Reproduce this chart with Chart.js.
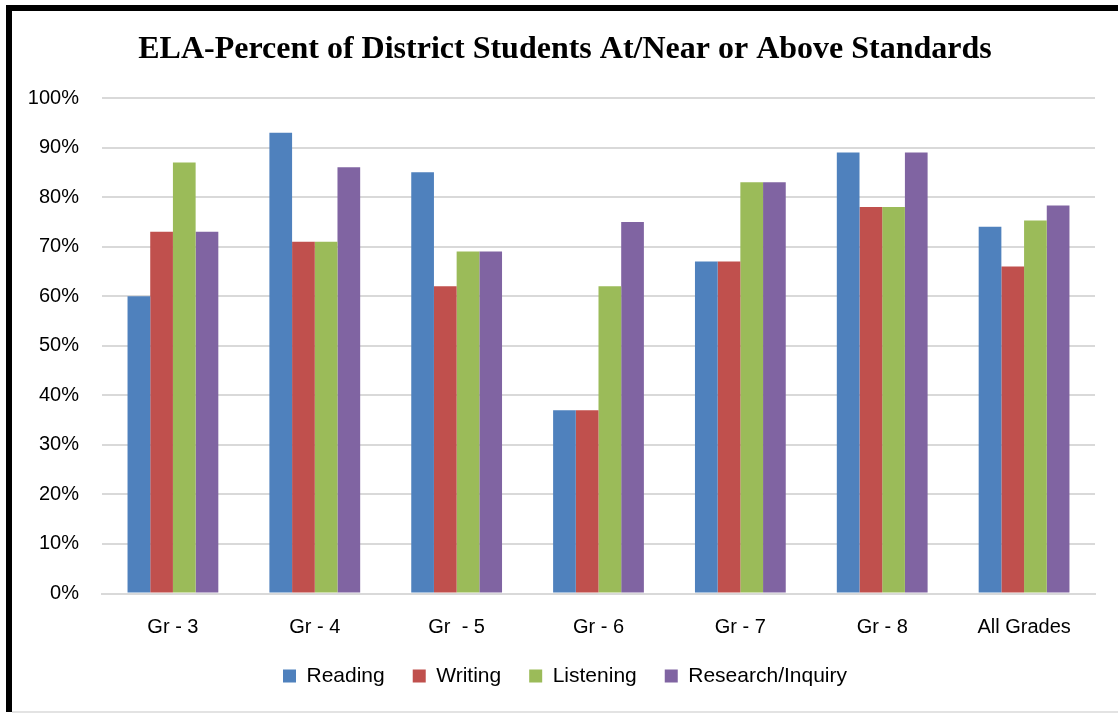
<!DOCTYPE html>
<html>
<head>
<meta charset="utf-8">
<script src="https://cdn.jsdelivr.net/npm/chart.js@4.4.1/dist/chart.umd.min.js"></script>
<style>
  html, body { margin: 0; padding: 0; background: #fff; width: 1118px; height: 713px; overflow: hidden; }
  #frame { position: absolute; left: 6px; top: 5px; width: 1112px; height: 707px;
           border-top: 6px solid #000; border-left: 6px solid #000; box-sizing: border-box; }
  #bottomline { position: absolute; left: 12px; top: 711px; width: 1106px; height: 2px; background: #e3e3e3; }
  #wrap { position: absolute; left: 12px; top: 11px; width: 1106px; height: 700px; }
</style>
</head>
<body>
<div id="frame"></div>
<div id="bottomline"></div>
<div id="wrap"><canvas id="c" width="1106" height="700"></canvas></div>
<script>
const categories = ["Gr - 3", "Gr - 4", "Gr  - 5", "Gr - 6", "Gr - 7", "Gr - 8", "All Grades"];
const reading  = [60, 93, 85, 37, 67, 89, 74];
const writing  = [73, 71, 62, 37, 67, 78, 66];
const listening = [87, 71, 69, 62, 83, 78, 75.3];
const research = [73, 86, 69, 75, 83, 89, 78.3];
const seriesNames = ["Reading", "Writing", "Listening", "Research/Inquiry"];
const titleText = "ELA-Percent of District Students At/Near or Above Standards";

const colors = ["#4F81BD", "#C0504D", "#9BBB59", "#8064A2"];
const sets = [reading, writing, listening, research];

new Chart(document.getElementById("c"), {
  type: "bar",
  data: {
    labels: categories,
    datasets: sets.map((d, i) => ({
      label: seriesNames[i],
      data: d,
      backgroundColor: colors[i],
      borderWidth: 0,
      barPercentage: 1.0,
      categoryPercentage: 0.64,
      yAxisID: "y"
    }))
  },
  options: {
    responsive: false,
    animation: false,
    layout: { padding: { left: 0, right: 0, top: 0, bottom: 14.5 } },
    plugins: {
      title: {
        display: true,
        text: titleText,
        color: "#000",
        font: { family: "Liberation Serif", size: 32, weight: "bold" },
        padding: { top: 20, bottom: 28.6 }
      },
      legend: {
        position: "bottom",
        labels: {
          color: "#000",
          font: { family: "Liberation Sans", size: 21 },
          boxWidth: 13, boxHeight: 13, padding: 28
        }
      },
      tooltip: { enabled: false }
    },
    scales: {
      x: {
        grid: { display: false, drawTicks: false },
        border: { color: "#d9d9d9", width: 2 },
        ticks: { color: "#000", font: { family: "Liberation Sans", size: 20 }, padding: 22 },
        afterFit: (s) => { s.height = 44; }
      },
      y: {
        position: "left",
        min: 0, max: 100,
        afterFit: (s) => { s.width = 90; },
        grid: { color: "#d9d9d9", lineWidth: 2, drawTicks: false },
        border: { display: false },
        ticks: { stepSize: 10, color: "#000", font: { family: "Liberation Sans", size: 20 }, padding: 23,
                 callback: (v) => v + "%" }
      },
      yRightGap: {
        position: "right",
        afterFit: (s) => { s.width = 23; },
        grid: { display: false, drawTicks: false },
        border: { display: false },
        ticks: { display: false }
      }
    }
  }
});
</script>
</body>
</html>
